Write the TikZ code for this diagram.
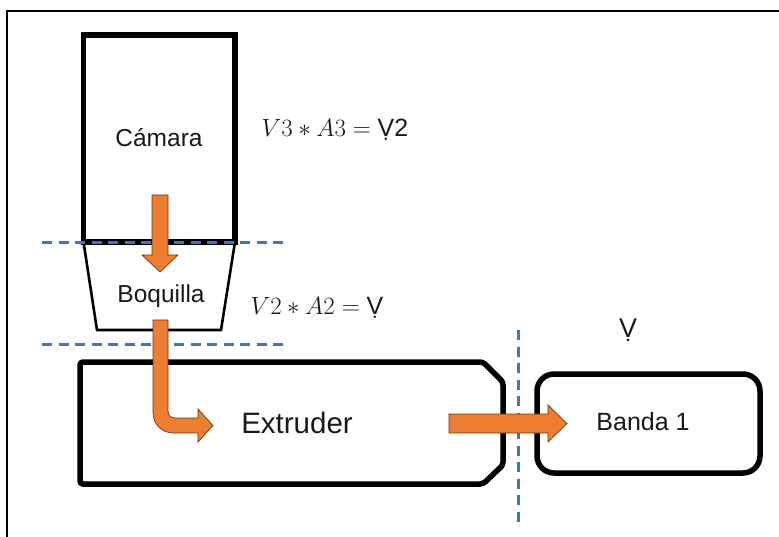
\documentclass[tikz,border=0pt]{standalone}
\usepackage{fontspec}
\setmainfont{Liberation Sans}
\definecolor{arrorange}{HTML}{ED7D31}
\definecolor{arredge}{HTML}{6B3A14}
\definecolor{dashblue}{HTML}{4472C4}
\definecolor{txt}{HTML}{1A1A1A}
\begin{document}
\begin{tikzpicture}[x=1pt,y=-1pt,
  frame/.style={draw=black,line width=1.4pt},
  thickbox/.style={draw=black,line width=5.5pt},
  thinbox/.style={draw=black,line width=2.6pt},
  flow/.style={fill=arrorange,draw=arredge,line width=0.7pt,line join=miter},
  cut/.style={draw=dashblue,line width=3pt,dash pattern=on 10pt off 6.5pt},
  lbl/.style={inner sep=0pt,text=txt,font=\fontsize{24.5}{28}\selectfont},
  eq/.style={inner sep=0pt,text=txt,font=\fontsize{25}{30}\selectfont}]
\useasboundingbox (0,0) rectangle (779,537);
\fill[white] (0,0) rectangle (779,537);
% outer frame
\draw[frame] (7,537) -- (7,11) -- (779,11);
% Camara
\draw[thickbox] (83.5,35) rectangle (235,242);
\node[lbl] (camara) at (159,138) {Cámara};
% Boquilla
\draw[thinbox,line join=miter] (83.5,242) -- (97,330) -- (221,330) -- (235,242);
\node[lbl] (boquilla) at (161,296) {Boquilla};
% Extruder
\draw[thickbox,rounded corners=3pt] (80,362) -- (483,362) -- (503,382) -- (503,465) -- (483,484) -- (80,484) -- cycle;
\node[lbl,font=\fontsize{29.5}{32}\selectfont] (extruder) at (297,423) {Extruder};
% Banda 1
\draw[thickbox,rounded corners=17pt] (537,374) rectangle (760,473);
\node[lbl,font=\fontsize{25}{28}\selectfont] (banda) at (643,422) {Banda 1};
% dashed cut lines
\draw[cut] (42,243) -- (285,243);
\draw[cut] (42,344) -- (285,344);
\draw[cut] (518,330) -- (518,522);
% equations
\node[eq] (eq1) at (335,130) {$V3 \ast A3 =$ Ṿ2};
\node[eq] (eq2) at (317,308) {$V2 \ast A2 =$ Ṿ};
\node[eq,font=\fontsize{27}{30}\selectfont] (vdot) at (628,330) {Ṿ};
% arrows
\path[flow] (152,195) -- (152,255) -- (142,255) -- (160,272) -- (178,255) -- (168,255) -- (168,195) -- cycle;
\path[flow] (153,320) -- (153,413) .. controls (153,424) and (162,433) .. (173,433) -- (198,433) -- (198,442) -- (213,425.5) -- (198,409) -- (198,418) -- (176,418) .. controls (171,418) and (168,416) .. (168,411) -- (168,320) -- cycle;
\path[flow] (449,414) -- (548,414) -- (548,405) -- (567,423.5) -- (548,442) -- (548,433) -- (449,433) -- cycle;
\end{tikzpicture}
\end{document}
